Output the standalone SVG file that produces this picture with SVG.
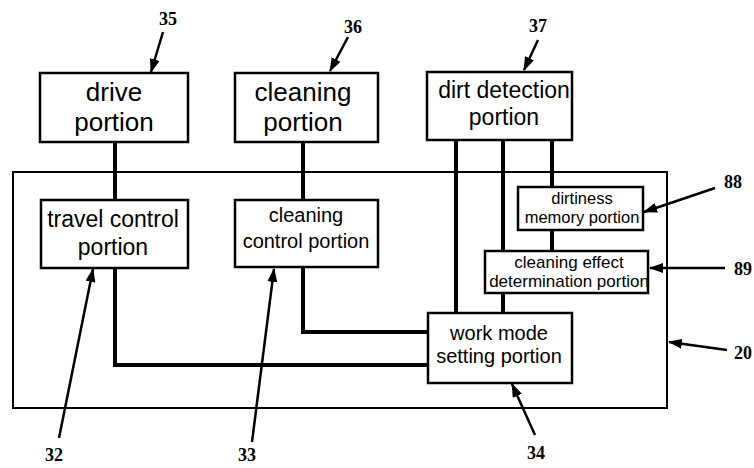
<svg xmlns="http://www.w3.org/2000/svg" width="754" height="468" viewBox="0 0 754 468">
<defs>
<marker id="ah" markerWidth="14" markerHeight="10" refX="13" refY="5" orient="auto" markerUnits="userSpaceOnUse">
<path d="M0,0 L14,5 L0,10 Z" fill="#000"/>
</marker>
<style>
.box{fill:#fff;stroke:#000;stroke-width:2.5}
.outer{fill:none;stroke:#000;stroke-width:2}
.t{font-family:"Liberation Sans",Arial,sans-serif;fill:#000;text-anchor:middle}
.num{font-family:"Liberation Serif","Times New Roman",serif;font-weight:bold;font-size:18px;fill:#000;text-anchor:middle}
.conn{fill:none;stroke:#000;stroke-width:4}
.lead{fill:none;stroke:#000;stroke-width:2.5;marker-end:url(#ah)}
</style>
</defs>
<rect width="754" height="468" fill="#fff"/>
<g id="n20"><rect class="outer" x="13" y="172" width="654" height="236"/></g>
<g id="connectors">
<path class="conn" d="M115,142 V200"/>
<path class="conn" d="M303,142 V200"/>
<path class="conn" d="M456,140 V313"/>
<path class="conn" d="M503,140 V251 M503,293 V313"/>
<path class="conn" d="M552,140 V187 M552,230 V251"/>
<path class="conn" d="M115,268 V365 H428"/>
<path class="conn" d="M303,267 V332 H428"/>
</g>
<g id="n35"><rect class="box" x="40" y="73" width="148" height="69"/>
<text class="t" font-size="26" x="114" y="101">drive</text><text class="t" font-size="26" x="114" y="131">portion</text></g>
<g id="n36"><rect class="box" x="235" y="73" width="143" height="69"/>
<text class="t" font-size="26" x="303" y="101">cleaning</text><text class="t" font-size="26" x="303" y="131">portion</text></g>
<g id="n37"><rect class="box" x="427" y="72" width="145" height="68"/>
<text class="t" font-size="23" x="504" y="98">dirt detection</text><text class="t" font-size="23" x="504" y="125">portion</text></g>
<g id="n32"><rect class="box" x="41" y="200" width="147" height="68"/>
<text class="t" font-size="23" x="113" y="227">travel control</text><text class="t" font-size="23" x="113" y="255">portion</text></g>
<g id="n33"><rect class="box" x="235" y="200" width="143" height="67"/>
<text class="t" font-size="20" x="306" y="222">cleaning</text><text class="t" font-size="20" x="306" y="248">control portion</text></g>
<g id="n88"><rect class="box" x="518" y="187" width="125" height="43"/>
<text class="t" font-size="16.5" x="582" y="204">dirtiness</text><text class="t" font-size="16.5" x="582" y="223">memory portion</text></g>
<g id="n89"><rect class="box" x="485" y="251" width="163" height="42"/>
<text class="t" font-size="17" x="569" y="268">cleaning effect</text><text class="t" font-size="17" x="569" y="287">determination portion</text></g>
<g id="n34"><rect class="box" x="428" y="313" width="144" height="70"/>
<text class="t" font-size="20" x="499" y="340">work mode</text><text class="t" font-size="20" x="499" y="363">setting portion</text></g>
<g id="leaders">
<path class="lead" d="M163,32 L151,72"/>
<path class="lead" d="M348,37 L330,71"/>
<path class="lead" d="M538,40 L524,70"/>
<path class="lead" d="M715,188 L644,212"/>
<path class="lead" d="M725,268 L650,268"/>
<path class="lead" d="M727,350 L669,342"/>
<path class="lead" d="M535,435 L512,384"/>
<path class="lead" d="M59,438 L93,269"/>
<path class="lead" d="M252,442 L274,269"/>
</g>
<g id="labels">
<text class="num" x="168" y="25">35</text>
<text class="num" x="353" y="33">36</text>
<text class="num" x="538" y="32">37</text>
<text class="num" x="733" y="188">88</text>
<text class="num" x="743" y="275">89</text>
<text class="num" x="743" y="359">20</text>
<text class="num" x="536" y="459">34</text>
<text class="num" x="54" y="461">32</text>
<text class="num" x="247" y="461">33</text>
</g>
</svg>
